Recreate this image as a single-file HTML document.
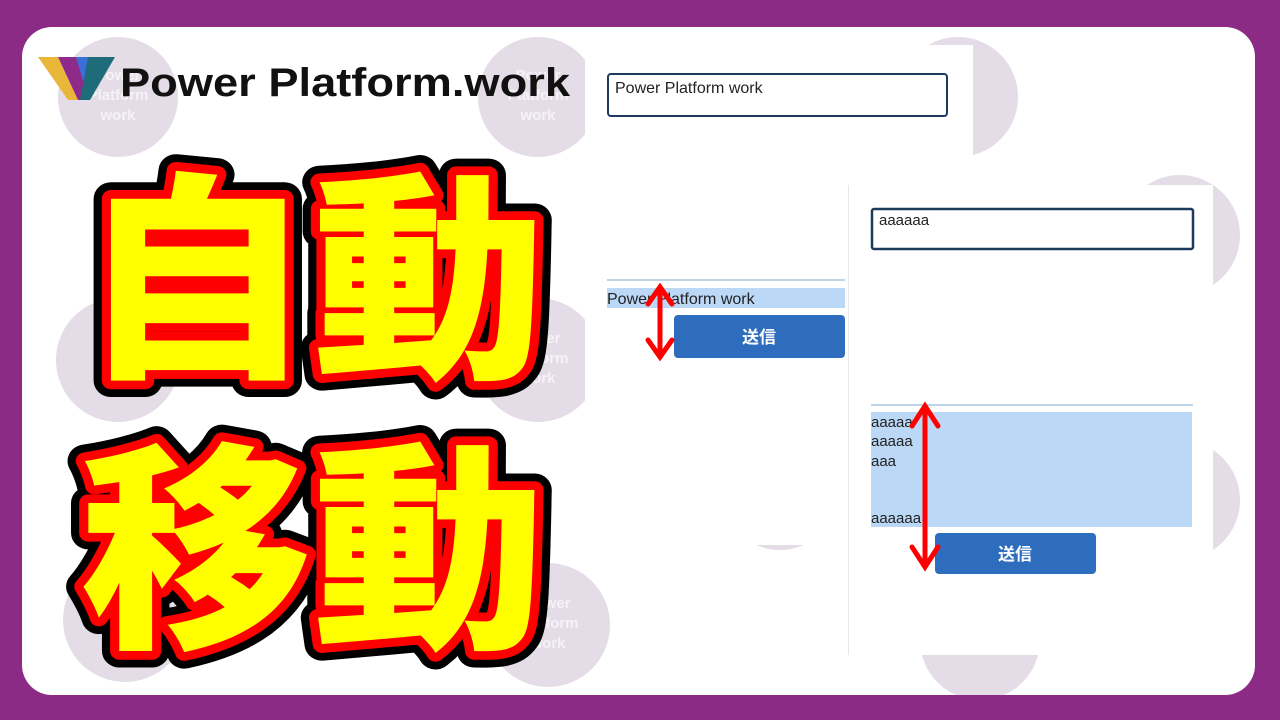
<!DOCTYPE html>
<html><head><meta charset="utf-8"><style>
body{margin:0;width:1280px;height:720px;background:#8c2b86;overflow:hidden;position:relative;font-family:"Liberation Sans","Noto Sans CJK JP",sans-serif}
.panel{position:absolute;left:22px;top:27px;width:1233px;height:668px;background:#fff;border-radius:30px;overflow:hidden}
</style></head><body>
<div class="panel">
<svg width="1233" height="668" viewBox="22 27 1233 668" style="position:absolute;left:0;top:0">
<g fill="#e4dce7">
<circle cx="118" cy="97" r="60"/><circle cx="538" cy="97" r="60"/><circle cx="958" cy="97" r="60"/>
<circle cx="118" cy="360" r="62"/><circle cx="538" cy="360" r="62"/><circle cx="1180" cy="235" r="60"/>
<circle cx="125" cy="620" r="62"/><circle cx="548" cy="625" r="62"/><circle cx="980" cy="640" r="60"/><circle cx="780" cy="490" r="60"/><circle cx="1180" cy="500" r="60"/>
</g>
<g fill="#f6f2f7" font-weight="bold" font-size="15" text-anchor="middle" font-family="Liberation Sans">
<text x="118" y="80">Power</text><text x="118" y="100">Platform</text><text x="118" y="120">work</text>
<text x="538" y="80">Power</text><text x="538" y="100">Platform</text><text x="538" y="120">work</text>
<text x="538" y="343">Power</text><text x="538" y="363">Platform</text><text x="538" y="383">work</text>
<text x="548" y="608">Power</text><text x="548" y="628">Platform</text><text x="548" y="648">work</text>
</g>
<!-- panel 1 -->
<rect x="585" y="45" width="388" height="500" fill="#fff"/>
<rect x="608" y="74" width="339" height="42" rx="3" fill="#fff" stroke="#1d3a5a" stroke-width="2"/>
<text x="615" y="93" font-size="16" fill="#222" font-family="Liberation Sans">Power Platform work</text>
<line x1="607" y1="280" x2="845" y2="280" stroke="#a9c6e2" stroke-width="1.5"/>
<rect x="607" y="288" width="238" height="20" fill="#bcd8f7"/>
<text x="607" y="304" font-size="16" fill="#222" font-family="Liberation Sans">Power Platform work</text>
<rect x="674" y="315" width="171" height="43" rx="4" fill="#2e6dbd"/>
<text x="759" y="343" font-size="17" font-weight="bold" fill="#fff" text-anchor="middle" font-family="Noto Sans CJK JP">送信</text>
<!-- panel 2 -->
<rect x="848" y="185" width="365" height="470" fill="#fff"/>
<line x1="848.5" y1="185" x2="848.5" y2="655" stroke="#e6e6e6" stroke-width="1"/>
<rect x="872" y="209" width="321" height="40" rx="2" fill="#fff" stroke="#1d3a5a" stroke-width="2.5"/>
<text x="879" y="225" font-size="15" fill="#222" font-family="Liberation Sans">aaaaaa</text>
<line x1="871" y1="405" x2="1193" y2="405" stroke="#a9c6e2" stroke-width="1.5"/>
<rect x="871" y="412" width="321" height="115" fill="#bcd8f7"/>
<g font-size="15" fill="#222" font-family="Liberation Sans"><text x="871" y="427">aaaaa</text><text x="871" y="446">aaaaa</text><text x="871" y="466">aaa</text><text x="871" y="523">aaaaaa</text></g>
<rect x="935" y="533" width="161" height="41" rx="4" fill="#2e6dbd"/>
<text x="1015" y="560" font-size="17" font-weight="bold" fill="#fff" text-anchor="middle" font-family="Noto Sans CJK JP">送信</text>
<!-- arrows -->
<g stroke="#f00" stroke-width="5" fill="none" stroke-linecap="round">
<line x1="660" y1="290" x2="660" y2="355"/><polyline points="648,304 660,287 672,304"/><polyline points="648,340 660,357 672,340"/>
<line x1="925" y1="408" x2="925" y2="565"/><polyline points="912,426 925,406 938,426"/><polyline points="912,547 925,567 938,547"/>
</g>
<!-- big text -->
<g font-family="Noto Sans CJK JP" font-weight="900" font-size="228" stroke-linejoin="round">
<g transform="translate(80,360) scale(1.02,0.97)"><text stroke="#000" stroke-width="34">自動</text><text stroke="#f00" stroke-width="18">自動</text><text fill="#ffff00">自動</text></g>
<g transform="translate(80,630) scale(1.02,0.97)"><text stroke="#000" stroke-width="34">移動</text><text stroke="#f00" stroke-width="18">移動</text><text fill="#ffff00">移動</text></g>
</g>
<!-- logo -->
<polygon points="38,57 58,57 78,100 68,100" fill="#e8b73a"/>
<polygon points="58,57 76,57 92,92 84,100 78,100" fill="#8e2b8a"/>
<polygon points="76,57 96,57 84,84" fill="#3a6fd8"/>
<polygon points="88,57 115,57 90,100 80,100" fill="#1e6b7a"/>
<text x="120" y="96" font-size="40" font-weight="bold" fill="#111" font-family="Liberation Sans" textLength="450" lengthAdjust="spacingAndGlyphs">Power Platform.work</text>
</svg>
</div>
</body></html>
